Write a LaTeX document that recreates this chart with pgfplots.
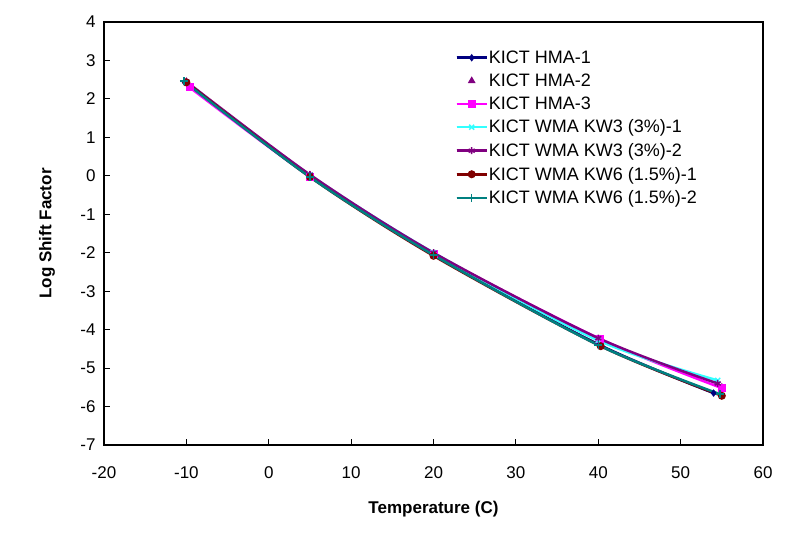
\documentclass[border=0pt]{standalone}
\usepackage{pgfplots}
\pgfplotsset{compat=1.18}
\usepackage{fontspec}
\setmainfont{Liberation Sans}
\definecolor{cNavy}{RGB}{0,0,128}
\definecolor{cPurple}{RGB}{128,0,128}
\definecolor{cMag}{RGB}{255,0,255}
\definecolor{cCyan}{RGB}{51,255,255}
\definecolor{cDRed}{RGB}{128,0,0}
\definecolor{cTeal}{RGB}{0,128,128}
\pgfplotsset{
  linelegend/.style={legend image code/.code={\draw[##1] (0pt,0pt) -- (30pt,0pt); \draw[##1, mark repeat=2, mark phase=2] plot coordinates {(0pt,0pt) (15pt,0pt) (30pt,0pt)};}},
  marklegend/.style={legend image code/.code={\draw[##1] plot coordinates {(15pt,0pt)};}},
}
\begin{document}
\begin{tikzpicture}
\useasboundingbox (0,0) rectangle (794pt,533pt);
\begin{axis}[
  at={(104pt,88pt)}, anchor=south west,
  scale only axis, width=659pt, height=423pt,
  xmin=-20, xmax=60, ymin=-7, ymax=4,
  xtick distance=10, ytick distance=1,
  tick align=inside, xtick pos=bottom, ytick pos=left,
  major tick length=6pt,
  axis line style={line width=1.2pt},
  tick style={line width=1pt, black},
  /pgf/number format/assume math mode=true,
  tick label style={font=\fontsize{17}{19}\selectfont},
  xticklabel style={yshift=-18pt},
  yticklabel style={xshift=-5pt},
  label style={font=\fontsize{17}{20}\selectfont\bfseries},
  xlabel={Temperature (C)}, ylabel={Log Shift Factor},
  xlabel style={at={(axis description cs:0.5,-0.1513)}, anchor=center},
  ylabel style={at={(axis description cs:-0.0865,0.5)}, anchor=center, rotate=0},
  legend style={draw=none, fill=none, at={(axis description cs:0.533,0.935)}, anchor=north west,
    font=\fontsize{18}{20}\selectfont, row sep=7pt, inner sep=0pt,
    nodes={inner sep=1pt}},
  legend cell align=left,
  linelegend,
  every axis plot/.append style={line width=2.5pt, smooth, mark options={solid, line width=1pt}},
]
\addplot[cNavy, mark=diamond*, mark size=3pt] coordinates {(-10.2,2.43) (5,0.0) (20,-2.06) (40,-4.38) (54,-5.65)};
\addlegendentry{KICT HMA-1}
\addplot[cPurple, only marks, mark=triangle*, mark size=3.5pt, marklegend] coordinates {(-10,2.45) (5,0.02) (20,-2.03) (40,-4.3) (55,-5.5)};
\addlegendentry{KICT HMA-2}
\addplot[cMag, mark=square*, mark size=3.5pt] coordinates {(-9.6,2.3) (5,-0.02) (20,-2.02) (40.2,-4.24) (55,-5.52)};
\addlegendentry{KICT HMA-3}
\addplot[cCyan, mark=x, mark size=3.5pt, mark options={line width=1.5pt}] coordinates {(-10,2.42) (5,0.02) (20,-2.0) (40,-4.28) (54.5,-5.32)};
\addlegendentry{KICT WMA KW3 (3\%)-1}
\addplot[cPurple, mark=asterisk, mark size=3.5pt, mark options={line width=1.5pt}] coordinates {(-10,2.45) (5,0.03) (20,-2.0) (40,-4.22) (54.5,-5.4)};
\addlegendentry{KICT WMA KW3 (3\%)-2}
\addplot[cDRed, mark=*, mark size=3.5pt] coordinates {(-10,2.43) (5,-0.03) (20,-2.08) (40.3,-4.43) (55,-5.72)};
\addlegendentry{KICT WMA KW6 (1.5\%)-1}
\addplot[cTeal, mark=+, mark size=4pt, mark options={line width=1.5pt}] coordinates {(-10.3,2.46) (5,-0.03) (20,-2.06) (40,-4.4) (54.8,-5.68)};
\addlegendentry{KICT WMA KW6 (1.5\%)-2}
\end{axis}
\end{tikzpicture}
\end{document}
